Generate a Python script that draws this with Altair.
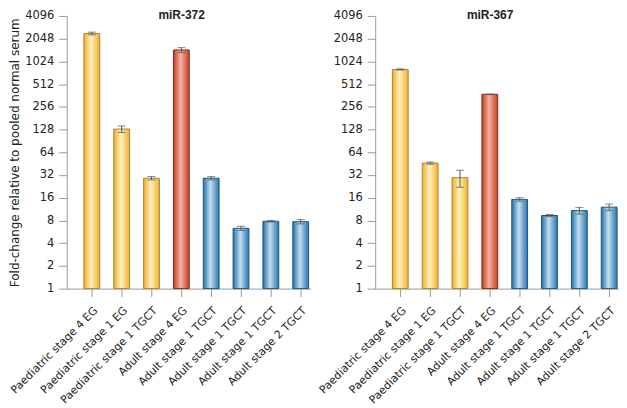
import altair as alt
import pandas as pd

categories = [
    "Paediatric stage 4 EG",
    "Paediatric stage 1 EG",
    "Paediatric stage 1 TGCT",
    "Adult stage 4 EG",
    "Adult stage 1 TGCT",
    "Adult stage 1 TGCT ",
    "Adult stage 1 TGCT  ",
    "Adult stage 2 TGCT",
]
groups = ["ped", "ped", "ped", "adult4", "adult", "adult", "adult", "adult"]

mir372_values = [2400, 130, 29, 1450, 29, 6.3, 7.8, 7.7]
mir372_errors = [100, 13, 1.5, 110, 1.5, 0.4, 0.2, 0.5]

mir367_values = [800, 46, 29.5, 375, 15.2, 9.3, 10.8, 12.0]
mir367_errors = [15, 1.5, 7.5, 3, 0.8, 0.3, 1.1, 1.2]

y_ticks = [1, 2, 4, 8, 16, 32, 64, 128, 256, 512, 1024, 2048, 4096]

FONT = "DejaVu Sans"

gradients = {
    "ped": alt.Gradient(
        gradient="linear", x1=0, x2=1, y1=0, y2=0,
        stops=[alt.GradientStop(color="#EFAC28", offset=0),
               alt.GradientStop(color="#FFF1BE", offset=0.45),
               alt.GradientStop(color="#F1B02A", offset=1)]),
    "adult4": alt.Gradient(
        gradient="linear", x1=0, x2=1, y1=0, y2=0,
        stops=[alt.GradientStop(color="#C23A26", offset=0),
               alt.GradientStop(color="#F6B39E", offset=0.45),
               alt.GradientStop(color="#C63D28", offset=1)]),
    "adult": alt.Gradient(
        gradient="linear", x1=0, x2=1, y1=0, y2=0,
        stops=[alt.GradientStop(color="#2470A8", offset=0),
               alt.GradientStop(color="#C2DEF1", offset=0.45),
               alt.GradientStop(color="#2774AC", offset=1)]),
}
strokes = {"ped": "#A8873A", "adult4": "#862818", "adult": "#1C5683"}


def panel(title, values, errors, show_title):
    df = pd.DataFrame({
        "cat": categories,
        "group": groups,
        "value": values,
        "lo": [v - e for v, e in zip(values, errors)],
        "hi": [v + e for v, e in zip(values, errors)],
        "base": [1] * len(values),
    })
    x = alt.X(
        "cat:N", sort=categories, title=None,
        scale=alt.Scale(paddingInner=0.47, paddingOuter=0.32, align=0.9),
        axis=alt.Axis(labelAngle=-45, labelAlign="right", labelBaseline="top",
                      labelFontSize=11, labelFont=FONT, labelColor="#222",
                      labelPadding=8, tickSize=8, tickColor="#999",
                      domainColor="#999", labelExpr="trim(datum.label)"),
    )
    yscale = alt.Scale(type="log", base=2, domain=[1, 4096], nice=False)
    y = alt.Y(
        "value:Q", scale=yscale,
        title="Fold-change relative to pooled normal serum" if show_title else None,
        axis=alt.Axis(values=y_ticks, format="d", grid=False, labelFontSize=11.5,
                      labelFont=FONT, labelColor="#222", tickSize=8,
                      tickColor="#999", domainColor="#999", labelPadding=5,
                      titleFont=FONT, titleFontSize=12, titleFontWeight="normal",
                      titleColor="#222", titlePadding=3),
    )
    layers = []
    for g in ["ped", "adult4", "adult"]:
        layers.append(
            alt.Chart(df).transform_filter(alt.datum.group == g)
            .mark_bar(color=gradients[g], stroke=strokes[g], strokeWidth=1)
            .encode(x=x, y=y, y2="base:Q")
        )
    err = alt.Chart(df).mark_rule(color="#555", strokeWidth=1).encode(
        x=x, y=alt.Y("lo:Q", scale=yscale), y2="hi:Q")
    cap_lo = alt.Chart(df).mark_tick(color="#555", size=8, thickness=1,
                                     orient="horizontal").encode(
        x=x, y=alt.Y("lo:Q", scale=yscale))
    cap_hi = alt.Chart(df).mark_tick(color="#555", size=8, thickness=1,
                                     orient="horizontal").encode(
        x=x, y=alt.Y("hi:Q", scale=yscale))
    return alt.layer(*layers, err, cap_lo, cap_hi).properties(
        width=245, height=274,
        title=alt.TitleParams(title, fontSize=12, font="Liberation Sans",
                              fontWeight="bold", color="#222", offset=-12, dx=-7),
    )


left = panel("miR-372", mir372_values, mir372_errors, True)
right = panel("miR-367", mir367_values, mir367_errors, False)

chart = alt.hconcat(left, right, spacing=65, bounds="flush").properties(
    padding={"left": 0, "top": 0, "right": 0, "bottom": 0}
).configure_view(stroke=None)

chart.save("out.html", embed_options={"renderer": "svg", "actions": False})
